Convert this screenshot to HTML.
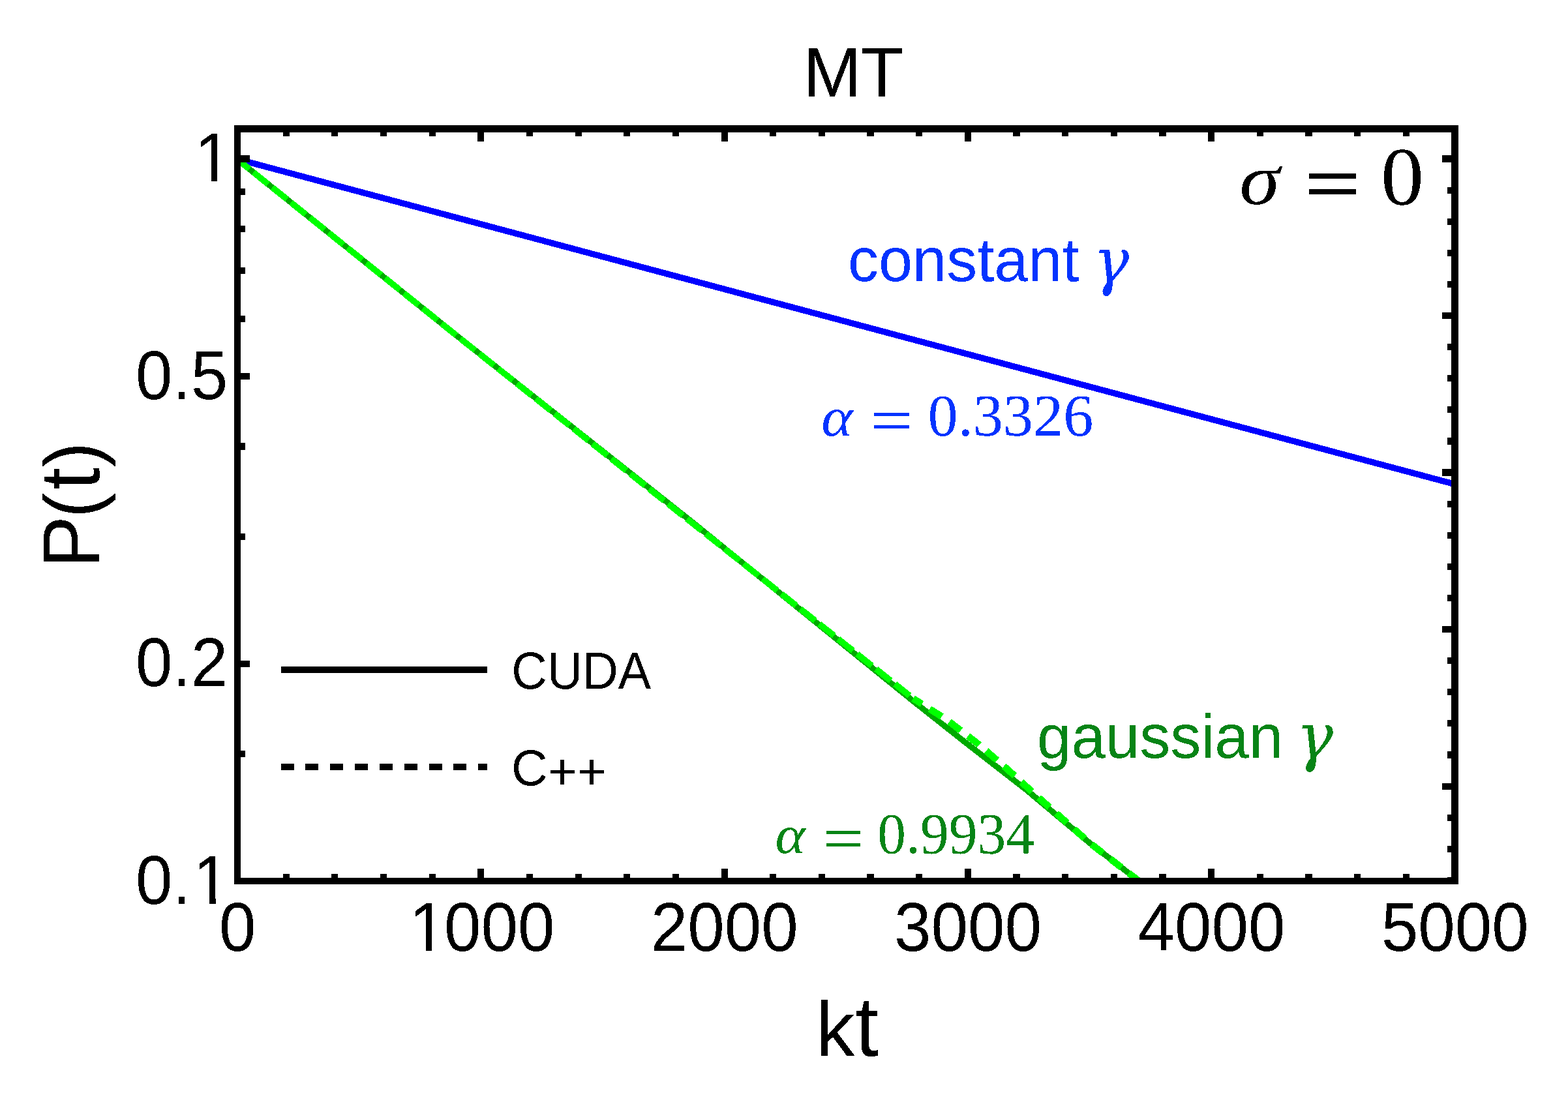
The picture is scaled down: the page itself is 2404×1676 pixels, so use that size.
<!DOCTYPE html>
<html lang="en"><head><meta charset="utf-8"><title>MT</title>
<style>html,body{margin:0;padding:0;background:#fff;overflow:hidden}svg{display:block}text{font-kerning:none;white-space:pre}</style>
</head><body>
<svg width="2404" height="1676" viewBox="0 0 2404 1676" role="img" aria-label="MT: P(t) versus kt">
<rect x="0" y="0" width="2404" height="1676" fill="#fff"/>
<defs><clipPath id="pc"><rect x="369" y="203" width="1856" height="1143"/></clipPath></defs>
<g clip-path="url(#pc)" fill="none" shape-rendering="crispEdges">
<path d="M364 244 L2230.5 742.5" stroke="#0000ff" stroke-width="9.5"/>
<path d="M364 244.5 L700 514.5 L1060 799.5 L1400 1075 L1477 1136 L1574 1211.5 L1670 1292 L1745 1350" stroke="#00aa00" stroke-width="9" stroke-linejoin="round"/>
<path d="M364 244.5 L700 514.5 L1060 801 L1400 1071" stroke="#00ff00" stroke-width="9.5" stroke-linejoin="round" stroke-dasharray="29 8" stroke-dashoffset="5.5"/>
<path d="M1400 1071 L1452 1104 L1500 1141 L1545 1180 L1585 1216.5 L1670 1292 L1745 1350" stroke="#00ff00" stroke-width="10.5" stroke-linejoin="round" stroke-dasharray="22 14" stroke-dashoffset="6"/>
</g>
<g shape-rendering="crispEdges">
<rect x="359" y="192" width="10" height="1164" fill="#000"/>
<rect x="2225" y="192" width="11" height="1164" fill="#000"/>
<rect x="359" y="192" width="1877" height="11" fill="#000"/>
<rect x="359" y="1346" width="1877" height="10" fill="#000"/>
<rect x="359" y="1332" width="10" height="14" fill="#000"/>
<rect x="359" y="203" width="10" height="14" fill="#000"/>
<rect x="434" y="1340" width="10" height="6" fill="#000"/>
<rect x="434" y="203" width="10" height="6" fill="#000"/>
<rect x="508" y="1340" width="10" height="6" fill="#000"/>
<rect x="508" y="203" width="10" height="6" fill="#000"/>
<rect x="583" y="1340" width="10" height="6" fill="#000"/>
<rect x="583" y="203" width="10" height="6" fill="#000"/>
<rect x="658" y="1340" width="10" height="6" fill="#000"/>
<rect x="658" y="203" width="10" height="6" fill="#000"/>
<rect x="732" y="1332" width="10" height="14" fill="#000"/>
<rect x="732" y="203" width="10" height="14" fill="#000"/>
<rect x="807" y="1340" width="10" height="6" fill="#000"/>
<rect x="807" y="203" width="10" height="6" fill="#000"/>
<rect x="882" y="1340" width="10" height="6" fill="#000"/>
<rect x="882" y="203" width="10" height="6" fill="#000"/>
<rect x="956" y="1340" width="10" height="6" fill="#000"/>
<rect x="956" y="203" width="10" height="6" fill="#000"/>
<rect x="1031" y="1340" width="10" height="6" fill="#000"/>
<rect x="1031" y="203" width="10" height="6" fill="#000"/>
<rect x="1106" y="1332" width="10" height="14" fill="#000"/>
<rect x="1106" y="203" width="10" height="14" fill="#000"/>
<rect x="1180" y="1340" width="10" height="6" fill="#000"/>
<rect x="1180" y="203" width="10" height="6" fill="#000"/>
<rect x="1255" y="1340" width="10" height="6" fill="#000"/>
<rect x="1255" y="203" width="10" height="6" fill="#000"/>
<rect x="1329" y="1340" width="11" height="6" fill="#000"/>
<rect x="1329" y="203" width="11" height="6" fill="#000"/>
<rect x="1404" y="1340" width="10" height="6" fill="#000"/>
<rect x="1404" y="203" width="10" height="6" fill="#000"/>
<rect x="1479" y="1332" width="10" height="14" fill="#000"/>
<rect x="1479" y="203" width="10" height="14" fill="#000"/>
<rect x="1553" y="1340" width="11" height="6" fill="#000"/>
<rect x="1553" y="203" width="11" height="6" fill="#000"/>
<rect x="1628" y="1340" width="10" height="6" fill="#000"/>
<rect x="1628" y="203" width="10" height="6" fill="#000"/>
<rect x="1703" y="1340" width="10" height="6" fill="#000"/>
<rect x="1703" y="203" width="10" height="6" fill="#000"/>
<rect x="1777" y="1340" width="11" height="6" fill="#000"/>
<rect x="1777" y="203" width="11" height="6" fill="#000"/>
<rect x="1852" y="1332" width="10" height="14" fill="#000"/>
<rect x="1852" y="203" width="10" height="14" fill="#000"/>
<rect x="1927" y="1340" width="10" height="6" fill="#000"/>
<rect x="1927" y="203" width="10" height="6" fill="#000"/>
<rect x="2001" y="1340" width="11" height="6" fill="#000"/>
<rect x="2001" y="203" width="11" height="6" fill="#000"/>
<rect x="2076" y="1340" width="10" height="6" fill="#000"/>
<rect x="2076" y="203" width="10" height="6" fill="#000"/>
<rect x="2151" y="1340" width="10" height="6" fill="#000"/>
<rect x="2151" y="203" width="10" height="6" fill="#000"/>
<rect x="2225" y="1332" width="11" height="14" fill="#000"/>
<rect x="2225" y="203" width="11" height="14" fill="#000"/>
<rect x="369" y="238" width="14" height="11" fill="#000"/>
<rect x="369" y="289" width="7" height="10" fill="#000"/>
<rect x="369" y="346" width="7" height="10" fill="#000"/>
<rect x="369" y="410" width="7" height="10" fill="#000"/>
<rect x="369" y="484" width="7" height="10" fill="#000"/>
<rect x="369" y="572" width="14" height="10" fill="#000"/>
<rect x="369" y="679" width="7" height="11" fill="#000"/>
<rect x="369" y="818" width="7" height="10" fill="#000"/>
<rect x="369" y="1013" width="14" height="10" fill="#000"/>
<rect x="369" y="1151" width="7" height="10" fill="#000"/>
<rect x="369" y="1346" width="14" height="10" fill="#000"/>
<rect x="2211" y="238" width="14" height="11" fill="#000"/>
<rect x="2219" y="287" width="6" height="10" fill="#000"/>
<rect x="2219" y="335" width="6" height="10" fill="#000"/>
<rect x="2219" y="383" width="6" height="10" fill="#000"/>
<rect x="2219" y="431" width="6" height="10" fill="#000"/>
<rect x="2211" y="479" width="14" height="10" fill="#000"/>
<rect x="2219" y="527" width="6" height="10" fill="#000"/>
<rect x="2219" y="575" width="6" height="10" fill="#000"/>
<rect x="2219" y="623" width="6" height="10" fill="#000"/>
<rect x="2219" y="671" width="6" height="11" fill="#000"/>
<rect x="2211" y="719" width="14" height="11" fill="#000"/>
<rect x="2219" y="768" width="6" height="10" fill="#000"/>
<rect x="2219" y="816" width="6" height="10" fill="#000"/>
<rect x="2219" y="864" width="6" height="10" fill="#000"/>
<rect x="2219" y="912" width="6" height="10" fill="#000"/>
<rect x="2211" y="960" width="14" height="10" fill="#000"/>
<rect x="2219" y="1008" width="6" height="10" fill="#000"/>
<rect x="2219" y="1056" width="6" height="10" fill="#000"/>
<rect x="2219" y="1104" width="6" height="10" fill="#000"/>
<rect x="2219" y="1152" width="6" height="11" fill="#000"/>
<rect x="2211" y="1201" width="14" height="10" fill="#000"/>
<rect x="2219" y="1249" width="6" height="10" fill="#000"/>
<rect x="2219" y="1297" width="6" height="10" fill="#000"/>
<rect x="2219" y="1345" width="6" height="10" fill="#000"/>
<rect x="431" y="1022" width="316" height="10" fill="#000"/>
<rect x="431" y="1171" width="20" height="10" fill="#000"/>
<rect x="468" y="1171" width="20" height="10" fill="#000"/>
<rect x="506" y="1171" width="20" height="10" fill="#000"/>
<rect x="544" y="1171" width="20" height="10" fill="#000"/>
<rect x="582" y="1171" width="20" height="10" fill="#000"/>
<rect x="620" y="1171" width="20" height="10" fill="#000"/>
<rect x="658" y="1171" width="20" height="10" fill="#000"/>
<rect x="695" y="1171" width="20" height="10" fill="#000"/>
<rect x="733" y="1171" width="14" height="10" fill="#000"/>
</g>
<filter id="hard" filterUnits="userSpaceOnUse" x="0" y="0" width="2404" height="1676" color-interpolation-filters="sRGB"><feComponentTransfer><feFuncA type="discrete" tableValues="0 1"/></feComponentTransfer></filter>
<g filter="url(#hard)">
<text x="1231.2 1319.6" y="148" font-family="Liberation Sans, sans-serif" font-size="107.5">MT</text>
<text transform="scale(1 1.035)" x="335.947" y="1408.502" font-family="Liberation Sans, sans-serif" font-size="101.6">0</text>
<clipPath id="c1"><rect x="604.49" y="1357.8" width="266.02" height="92.144"/><rect x="652.739" y="1448.944" width="9.579" height="11.856"/><rect x="682.495" y="1448.944" width="55.005" height="11.856"/><rect x="739" y="1448.944" width="55.005" height="11.856"/><rect x="795.505" y="1448.944" width="55.005" height="11.856"/></clipPath><g clip-path="url(#c1)"><text transform="scale(1 1.035)" x="627.49 680.995 737.5 794.005" y="1408.502" font-family="Liberation Sans, sans-serif" font-size="101.6">1000</text></g>
<text transform="scale(1 1.035)" x="997.79 1054.295 1110.8 1167.305" y="1408.502" font-family="Liberation Sans, sans-serif" font-size="101.6">2000</text>
<text transform="scale(1 1.035)" x="1371.09 1427.595 1484.1 1540.605" y="1408.502" font-family="Liberation Sans, sans-serif" font-size="101.6">3000</text>
<text transform="scale(1 1.035)" x="1744.39 1800.895 1857.4 1913.905" y="1408.502" font-family="Liberation Sans, sans-serif" font-size="101.6">4000</text>
<text transform="scale(1 1.035)" x="2117.69 2174.195 2230.7 2287.205" y="1408.502" font-family="Liberation Sans, sans-serif" font-size="101.6">5000</text>
<clipPath id="c2"><rect x="275.5" y="177.9" width="96.505" height="92.144"/><rect x="323.749" y="269.044" width="9.579" height="11.856"/></clipPath><g clip-path="url(#c2)"><text transform="scale(1 1.035)" x="298.5" y="268.502" font-family="Liberation Sans, sans-serif" font-size="101.6">1</text></g>
<text transform="scale(1 1.035)" x="208 264.505 292.733" y="591.304" font-family="Liberation Sans, sans-serif" font-size="101.6">0.5</text>
<text transform="scale(1 1.035)" x="208 264.505 292.733" y="1016.425" font-family="Liberation Sans, sans-serif" font-size="101.6">0.2</text>
<clipPath id="c3"><rect x="188" y="1285.8" width="181.238" height="92.144"/><rect x="209.5" y="1376.944" width="55.005" height="11.856"/><rect x="266.005" y="1376.944" width="26.728" height="11.856"/><rect x="320.982" y="1376.944" width="9.579" height="11.856"/></clipPath><g clip-path="url(#c3)"><text transform="scale(1 1.035)" x="208 264.505 295.733" y="1338.937" font-family="Liberation Sans, sans-serif" font-size="101.6">0.1</text></g>
<text x="1251 1311" y="1619" font-family="Liberation Sans, sans-serif" font-size="118.7">k<tspan font-size="130">t</tspan></text>
<text transform="matrix(0 -0.96 1 0 152 0)" x="-907.1 -827.2 -782.4 -746.2" y="0" font-family="Liberation Sans, sans-serif" font-size="125">P<tspan font-size="121">(</tspan><tspan font-size="130">t</tspan><tspan font-size="121">)</tspan></text>
<text transform="matrix(0.755 0 0 0.791 784.165 1056.228)" font-family="Liberation Sans, sans-serif" font-size="100" fill="#000">CUDA</text>
<text transform="matrix(0.771 0 0 0.771 784.085 1204)" font-family="Liberation Sans, sans-serif" font-size="100" fill="#000">C<tspan dy="7.5">++</tspan></text>
<text transform="matrix(0.938 0 0 0.938 1300.014 431)" font-family="Liberation Sans, sans-serif" font-size="100" fill="#0433ff">constant</text>
<text transform="matrix(0.923 0 0 0.975 1676.08 433.616)" font-family="DejaVu Serif, serif" font-size="100" font-style="italic" fill="#0433ff">γ</text>
<text transform="matrix(0.942 0 0 0.942 1590.044 1162)" font-family="Liberation Sans, sans-serif" font-size="100" fill="#078416">gaussian</text>
<text transform="matrix(0.947 0 0 0.989 1987.347 1163.329)" font-family="DejaVu Serif, serif" font-size="100" font-style="italic" fill="#078416">γ</text>
<text transform="matrix(1.252 0 0 1.123 1900.27 312.903)" font-family="Liberation Serif, serif" font-size="100" font-style="italic" fill="#000">σ</text>
<text transform="matrix(1.504 0 0 1.2 2000.508 321.844)" font-family="Liberation Serif, serif" font-size="100" fill="#000" stroke="#000" stroke-width="1.6">=</text>
<text transform="matrix(1.321 0 0 1.26 2116.968 313.77)" font-family="Liberation Serif, serif" font-size="100" fill="#000">0</text>
<text transform="matrix(0.918 0 0 0.851 1259.264 668.128)" font-family="Liberation Serif, serif" font-size="100" font-style="italic" fill="#0433ff">α</text>
<text transform="matrix(1.16 0 0 0.96 1334.22 676.875)" font-family="Liberation Serif, serif" font-size="100" fill="#0433ff">=</text>
<text transform="matrix(0.923 0 0 0.913 1422.486 667.707)" font-family="Liberation Serif, serif" font-size="100" fill="#0433ff">0.3326</text>
<text transform="matrix(0.879 0 0 0.83 1188.381 1308.149)" font-family="Liberation Serif, serif" font-size="100" font-style="italic" fill="#078416">α</text>
<text transform="matrix(1.124 0 0 0.972 1261.402 1318.123)" font-family="Liberation Serif, serif" font-size="100" fill="#078416">=</text>
<text transform="matrix(0.875 0 0 0.883 1345.366 1307.749)" font-family="Liberation Serif, serif" font-size="100" fill="#078416">0.9934</text>
</g>
</svg>
</body></html>
